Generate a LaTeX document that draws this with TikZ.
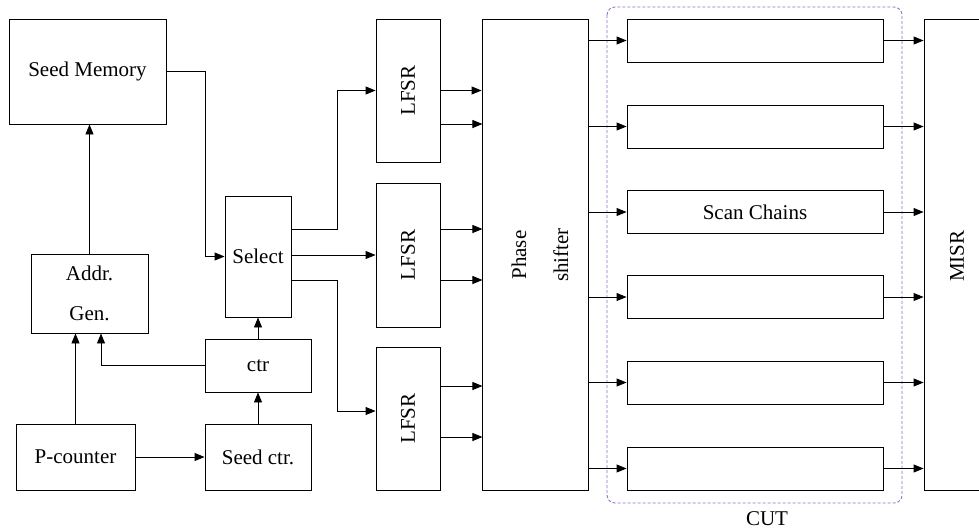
\documentclass[tikz,border=0pt]{standalone}
\usepackage{fontspec}
\setmainfont{Liberation Serif}
\usetikzlibrary{arrows.meta}
\definecolor{cutpurple}{RGB}{150,110,200}
\tikzset{
  box/.style={draw, line width=0.9pt, inner sep=0pt, font=\fontsize{21}{25}\selectfont},
  arr/.style={line width=0.9pt, -{Triangle[length=10pt,width=8pt]}},
  vtext/.style={rotate=90, font=\fontsize{21}{25}\selectfont},
}
\begin{document}
\begin{tikzpicture}[x=1pt,y=-1pt]
\clip (0,0) rectangle (979,531);
\fill[white] (0,0) rectangle (979,531);
% CUT region
\draw[cutpurple, dash pattern=on 3pt off 2pt, line width=0.9pt, rounded corners=8pt] (607,7) rectangle (902,503);
\node[font=\fontsize{21}{25}\selectfont] (cut) at (767,519) {CUT};
% left blocks
\node[box, minimum width=157pt, minimum height=105pt] (mem) at (87.5,71.5) {Seed Memory};
\node[box, minimum width=117pt, minimum height=79pt, align=center, font=\fontsize{21}{40}\selectfont] (addr) at (89.5,293.5) {Addr.\\Gen.};
\node[box, minimum width=119pt, minimum height=66pt] (pc) at (75.5,457) {P-counter};
\node[box, minimum width=106pt, minimum height=66pt] (sctr) at (258,457) {Seed ctr.};
\node[box, minimum width=106pt, minimum height=53pt] (ctr) at (258,365.5) {ctr};
\node[box, minimum width=66pt, minimum height=121pt] (sel) at (258,256.5) {Select};
% LFSRs
\node[box, minimum width=64pt, minimum height=143pt] (l1) at (408,90.5) {};
\node[vtext] (l1t) at (l1.center) {LFSR};
\node[box, minimum width=64pt, minimum height=144pt] (l2) at (408,255) {};
\node[vtext] (l2t) at (l2.center) {LFSR};
\node[box, minimum width=64pt, minimum height=143pt] (l3) at (408,418.5) {};
\node[vtext] (l3t) at (l3.center) {LFSR};
% phase shifter
\node[box, minimum width=106pt, minimum height=471pt] (ps) at (535,254.5) {};
\node[rotate=90, align=center, font=\fontsize{21}{42}\selectfont] (pst) at (540,255) {Phase\\shifter};
% scan chains
\node[box, minimum width=256pt, minimum height=43pt] (c1) at (755,40.5) {};
\node[box, minimum width=256pt, minimum height=43pt] (c2) at (755,126.5) {};
\node[box, minimum width=256pt, minimum height=43pt] (c3) at (755,212) {Scan Chains};
\node[box, minimum width=256pt, minimum height=43pt] (c4) at (755,297) {};
\node[box, minimum width=256pt, minimum height=43pt] (c5) at (755,382.5) {};
\node[box, minimum width=256pt, minimum height=43pt] (c6) at (755,468.5) {};
% MISR
\node[box, minimum width=66pt, minimum height=471pt] (misr) at (957,254.5) {};
\node[vtext] (misrt) at (957,256) {MISR};
% connectors left
\draw[arr] (addr.north) -- (addr.north |- mem.south);
\draw[arr] (pc.north) -- (pc.north |- addr.south);
\draw[arr] (ctr.west) -| ([xshift=11.5pt]addr.south);
\draw[arr] (sctr.north) -- (ctr.south);
\draw[arr] (ctr.north) -- (sel.south);
\draw[arr] (pc.east) -- (sctr.west);
\draw[arr] (mem.east) -- ++(39,0) |- (sel.west);
% select to LFSRs
\draw[arr] ([yshift=27.5pt]sel.east) -- ++(46,0) |- (l1.west);
\draw[arr] (sel.east |- l2.west) -- (l2.west);
\draw[arr] ([yshift=-23.5pt]sel.east) -- ++(46,0) |- ([yshift=7.5pt]l3.west);
% LFSR to phase shifter
\draw[arr] (l1.east) -- (l1.east -| ps.west);
\draw[arr] ([yshift=-33.5pt]l1.east) -- ++(42,0);
\draw[arr] ([yshift=26pt]l2.east) -- ++(42,0);
\draw[arr] ([yshift=-25pt]l2.east) -- ++(42,0);
\draw[arr] ([yshift=32.5pt]l3.east) -- ++(42,0);
\draw[arr] ([yshift=-18.5pt]l3.east) -- ++(42,0);
% phase shifter to chains, chains to MISR
\foreach \c in {c1,c2,c3,c4,c5,c6}{
  \draw[arr] (\c.west -| ps.east) -- (\c.west);
  \draw[arr] (\c.east) -- (\c.east -| misr.west);
}
\end{tikzpicture}
\end{document}
